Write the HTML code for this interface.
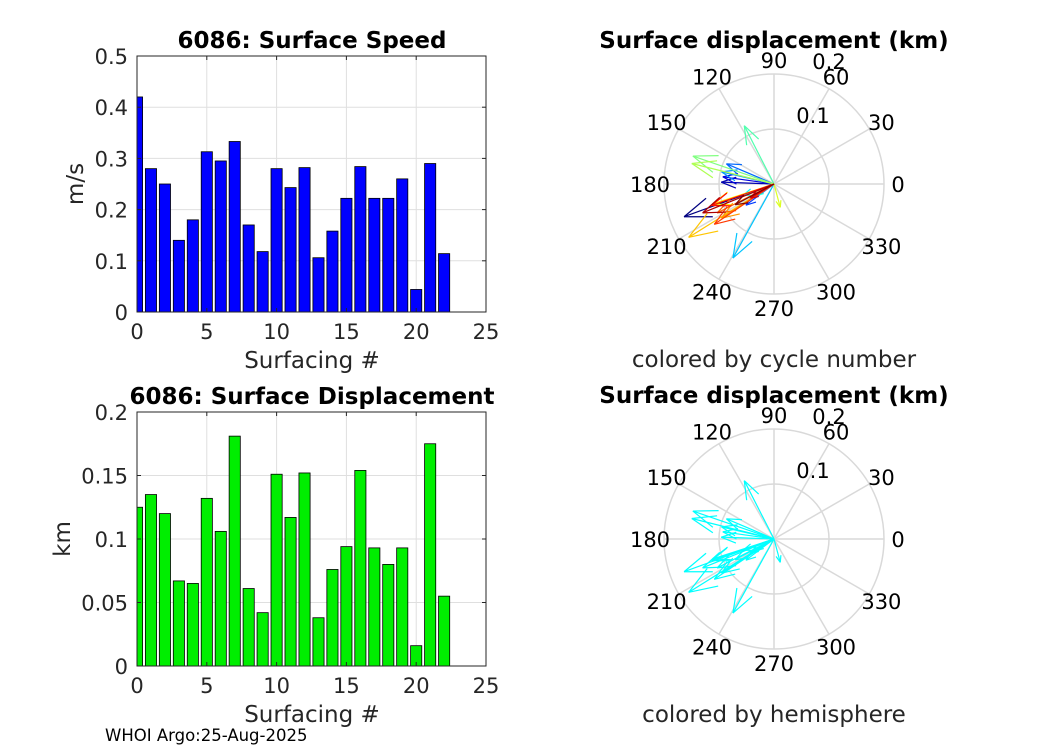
<!DOCTYPE html>
<html><head><meta charset="utf-8"><style>
body{margin:0;background:#fff;}
svg{font-family:"DejaVu Sans","Liberation Sans",sans-serif;}
</style></head><body>
<svg id="fig" width="1050" height="750" viewBox="0 0 1050 750" xmlns="http://www.w3.org/2000/svg"></svg>
<script>
const cycles=[0,1,2,3,4,5,6,7,8,9,10,11,12,13,14,15,16,17,18,19,20,21,22];
const speeds=[0.42,0.28,0.25,0.14,0.18,0.313,0.295,0.333,0.17,0.118,0.28,0.243,0.282,0.106,0.158,0.222,0.284,0.222,0.222,0.26,0.044,0.29,0.114];
const disps=[0.125,0.135,0.12,0.067,0.065,0.132,0.106,0.181,0.061,0.042,0.151,0.117,0.152,0.038,0.076,0.094,0.154,0.093,0.08,0.093,0.016,0.175,0.055];
const xTicks=[0,5,10,15,20,25];
const speedTicks=[0,0.1,0.2,0.3,0.4,0.5];
const dispTicks=[0,0.05,0.1,0.15,0.2];
const dispTickLabels=["0","0.05","0.1","0.15","0.2"];
const arrowAngles=[200,178,172,211,217,157,167,241,200,215,117,161,166,285,198,212,213,207,214,199,211,202,208];
const arrowR=[0.174,0.096,0.094,0.049,0.064,0.094,0.098,0.154,0.06,0.035,0.119,0.156,0.154,0.044,0.118,0.183,0.114,0.116,0.131,0.12,0.05,0.14,0.08];
const polarAngleTicks=[0,30,60,90,120,150,180,210,240,270,300,330];
const polarRTicks=[0.1,0.2];

const NS="http://www.w3.org/2000/svg";
const svg=document.getElementById('fig');
function mk(tag,attrs,parent){const e=document.createElementNS(NS,tag);for(const k in attrs)e.setAttribute(k,attrs[k]);(parent||svg).appendChild(e);return e;}
function txt(s,x,y,attrs,parent){const e=mk('text',Object.assign({x:x,y:y},attrs),parent);e.textContent=s;return e;}

function barChart(name,top,bottom,ymax,vals,ticks,tickLabels,color,title,ylabel){
  const L=137,R=486;
  const g=mk('g',{});
  
  
  const xs=v=>L+(v/25)*(R-L);
  const ys=v=>bottom-(v/ymax)*(bottom-top);
  mk('rect',{x:L,y:top,width:R-L,height:bottom-top,fill:'#fff'},g);
  xTicks.forEach(t=>{mk('line',{x1:xs(t),x2:xs(t),y1:top,y2:bottom,stroke:'#dfdfdf','stroke-width':1},g);});
  ticks.forEach(t=>{mk('line',{x1:L,x2:R,y1:ys(t),y2:ys(t),stroke:'#dfdfdf','stroke-width':1},g);});
  const cp=mk('clipPath',{id:'clip-'+name},g);mk('rect',{x:L,y:top,width:R-L,height:bottom-top},cp);
  const bg=mk('g',{'clip-path':'url(#clip-'+name+')'},g);
  vals.forEach((v,i)=>{const b=mk('rect',{x:xs(cycles[i]-0.4),y:ys(v),width:xs(0.8)-xs(0),height:ys(0)-ys(v),fill:color,stroke:'#000','stroke-width':0.8},bg);
    
    });
  mk('rect',{x:L,y:top,width:R-L,height:bottom-top,fill:'none',stroke:'#262626','stroke-width':1},g);
  xTicks.forEach(t=>{mk('line',{x1:xs(t),x2:xs(t),y1:bottom,y2:bottom-4,stroke:'#262626'},g);mk('line',{x1:xs(t),x2:xs(t),y1:top,y2:top+4,stroke:'#262626'},g);
    txt(String(t),xs(t),bottom+27,{'text-anchor':'middle','font-size':21,fill:'#262626'},g);});
  ticks.forEach((t,i)=>{mk('line',{x1:L,x2:L+4,y1:ys(t),y2:ys(t),stroke:'#262626'},g);mk('line',{x1:R,x2:R-4,y1:ys(t),y2:ys(t),stroke:'#262626'},g);
    txt(tickLabels[i],L-9,ys(t)+8,{'text-anchor':'end','font-size':21,fill:'#262626'},g);});
  const tt=txt(title,312,top-8,{'text-anchor':'middle','font-size':23,'font-weight':'bold',fill:'#000'},g);
  
  const xl=txt('Surfacing #',312,bottom+56,{'text-anchor':'middle','font-size':23,fill:'#262626'},g);
  
  const yx=ylabel==='m/s'?83:70;
  const yl=txt(ylabel,yx,(top+bottom)/2,{'text-anchor':'middle','font-size':23,fill:'#262626',transform:'rotate(-90 '+yx+' '+(top+bottom)/2+')'},g);
  
}
barChart('speed-chart',56,312,0.5,speeds,speedTicks,speedTicks.map(String),'#0000ff','6086: Surface Speed','m/s');
barChart('displacement-chart',412,666,0.2,disps,dispTicks,dispTickLabels,'#00ee00','6086: Surface Displacement','km');

function jet(t){const r=Math.min(Math.max(1.5-Math.abs(4*t-3),0),1),g=Math.min(Math.max(1.5-Math.abs(4*t-2),0),1),b=Math.min(Math.max(1.5-Math.abs(4*t-1),0),1);return 'rgb('+Math.round(r*255)+','+Math.round(g*255)+','+Math.round(b*255)+')';}

function polar(name,cx,cy,subtitle,colorFn){
  const g=mk('g',{});
  
  
  const RM=110, rs=r=>r/0.2*RM;
  polarRTicks.forEach(r=>mk('circle',{cx:cx,cy:cy,r:rs(r),fill:'none',stroke:'#d9d9d9','stroke-width':1.5},g));
  polarAngleTicks.forEach(a=>{const rad=a*Math.PI/180;
    mk('line',{x1:cx,y1:cy,x2:cx+RM*Math.cos(rad),y2:cy-RM*Math.sin(rad),stroke:'#d9d9d9','stroke-width':1.5},g);
    txt(String(a),cx+124*Math.cos(rad),cy-124*Math.sin(rad)+8,{'text-anchor':'middle','font-size':21,fill:'#000'},g);});
  txt('0.1',cx+39,cy-61,{'text-anchor':'middle','font-size':21,fill:'#000'},g);
  txt('0.2',cx+55,cy-115,{'text-anchor':'middle','font-size':21,fill:'#000'},g);
  cycles.forEach((c,i)=>{const rad=arrowAngles[i]*Math.PI/180,L=rs(arrowR[i]);
    const x2=cx+L*Math.cos(rad),y2=cy-L*Math.sin(rad);const col=colorFn(c);
    const ag=mk('g',{stroke:col,'stroke-width':1.2,fill:'none'},g);
    
    
    mk('line',{x1:cx,y1:cy,x2:x2,y2:y2},ag);
    const h=Math.max(L*0.3,5),ang=Math.atan2(y2-cy,x2-cx);
    [0.35,-0.35].forEach(d=>mk('line',{x1:x2,y1:y2,x2:x2-h*Math.cos(ang+d),y2:y2-h*Math.sin(ang+d)},ag));});
  const t=txt('Surface displacement (km)',cx,cy-136,{'text-anchor':'middle','font-size':23,'font-weight':'bold',fill:'#000'},g);
  
  const s=txt(subtitle,cx,cy+183,{'text-anchor':'middle','font-size':23,fill:'#262626'},g);
  
}
polar('polar-by-cycle',774,184,'colored by cycle number',c=>jet(c/22));
polar('polar-by-hemisphere',774,539,'colored by hemisphere',c=>'#00ffff');
const f=txt('WHOI Argo:25-Aug-2025',105,741,{'font-size':16.5,fill:'#000'});

</script>
</body></html>
